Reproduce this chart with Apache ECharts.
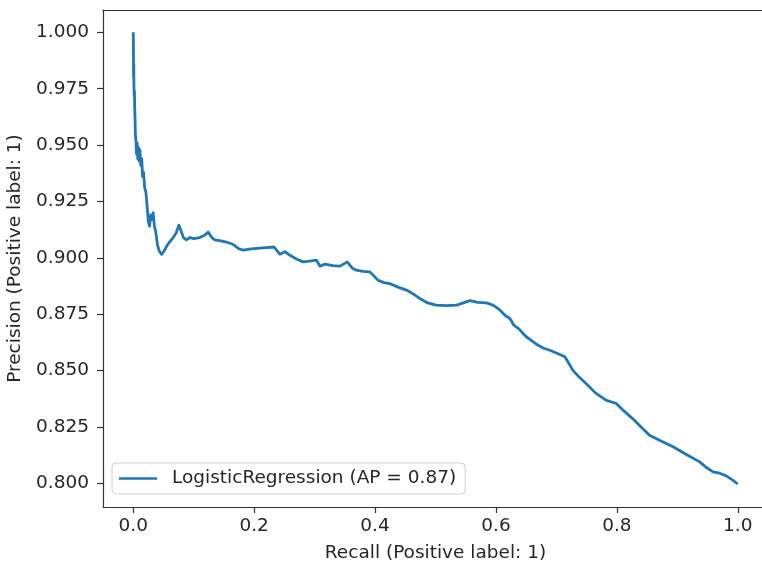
<!DOCTYPE html>
<html>
<head>
<meta charset="utf-8">
<script src="https://cdn.jsdelivr.net/npm/echarts@6/dist/echarts.min.js"></script>
<style>
html,body{margin:0;padding:0;background:#fff;overflow:hidden;}
#chart{width:762px;height:565px;}
</style>
</head>
<body>
<div id="chart"></div>
<script>
const seriesName = 'LogisticRegression (AP = 0.87)';
const xTicks = [0.0, 0.2, 0.4, 0.6, 0.8, 1.0];
const yTicks = [0.800, 0.825, 0.850, 0.875, 0.900, 0.925, 0.950, 0.975, 1.000];
const recall = [
  0, 0.0003, 0.0006, 0.0009, 0.0012, 0.0016, 0.002, 0.0025, 0.003, 0.0035,
  0.0045, 0.0055, 0.0065, 0.0075, 0.0085, 0.0095, 0.011, 0.0125, 0.014, 0.0155,
  0.017, 0.019, 0.021, 0.022, 0.0235, 0.025, 0.027, 0.029, 0.031, 0.033,
  0.035, 0.037, 0.040, 0.043, 0.047, 0.051, 0.055, 0.060, 0.066, 0.071,
  0.0755, 0.079, 0.083, 0.088, 0.094, 0.100, 0.110, 0.118, 0.124, 0.130,
  0.135, 0.145, 0.154, 0.165, 0.175, 0.182, 0.195, 0.209, 0.220, 0.233,
  0.2425, 0.251, 0.260, 0.270, 0.281, 0.292, 0.303, 0.309, 0.317, 0.330,
  0.342, 0.354, 0.362, 0.369, 0.380, 0.391, 0.398, 0.405, 0.415, 0.424,
  0.438, 0.452, 0.463, 0.474, 0.487, 0.501, 0.518, 0.535, 0.546, 0.557,
  0.570, 0.584, 0.595, 0.606, 0.615, 0.623, 0.630, 0.638, 0.650, 0.667,
  0.678, 0.689, 0.700, 0.714, 0.721, 0.727, 0.738, 0.749, 0.765, 0.782,
  0.799, 0.812, 0.826, 0.840, 0.854, 0.873, 0.893, 0.915, 0.937, 0.948,
  0.959, 0.970, 0.981, 0.991, 1.0
];
const precision = [
  1.000, 0.995, 0.980, 0.986, 0.976, 0.972, 0.974, 0.966, 0.962, 0.955,
  0.952, 0.946, 0.951, 0.944, 0.949, 0.943, 0.948, 0.941, 0.944, 0.936,
  0.938, 0.931, 0.929, 0.926, 0.921, 0.916, 0.914, 0.919, 0.917, 0.920,
  0.914, 0.912, 0.906, 0.903, 0.9015, 0.903, 0.905, 0.907, 0.909, 0.911,
  0.9145, 0.912, 0.909, 0.908, 0.909, 0.9085, 0.909, 0.910, 0.9114, 0.909,
  0.908, 0.9075, 0.907, 0.906, 0.904, 0.9034, 0.9040, 0.9043, 0.9045, 0.9048,
  0.9016, 0.9027, 0.901, 0.8995, 0.8982, 0.8985, 0.8990, 0.8963, 0.8972, 0.8965,
  0.8963, 0.8982, 0.8955, 0.8945, 0.894, 0.8938, 0.892, 0.8900, 0.889, 0.8886,
  0.887, 0.8857, 0.884, 0.882, 0.880, 0.8790, 0.8788, 0.8790, 0.880, 0.8810,
  0.8802, 0.8800, 0.8790, 0.8770, 0.8745, 0.8731, 0.870, 0.8685, 0.8650, 0.8617,
  0.8600, 0.8590, 0.8578, 0.8561, 0.853, 0.8502, 0.847, 0.8443, 0.840, 0.8369,
  0.8354, 0.832, 0.8287, 0.825, 0.8213, 0.8188, 0.8162, 0.8128, 0.8095, 0.807,
  0.8051, 0.8045, 0.8033, 0.8015, 0.7997
];

const data = recall.map((r, i) => [r, precision[i]]);
const font = 'DejaVu Sans';
const fs = 18.5;
const textColor = '#262626';
const axisColor = '#333';
const chart = echarts.init(document.getElementById('chart'), null, {renderer: 'canvas'});
chart.setOption({
  animation: false,
  backgroundColor: '#ffffff',
  grid: {
    left: 103, top: 10, width: 665, height: 497,
    containLabel: false, outerBoundsMode: 'none', show: false
  },
  legend: {
    left: 112, top: 463,
    data: [seriesName],
    icon: 'rect', itemWidth: 38, itemHeight: 2.5,
    padding: [6, 9, 6, 7],
    backgroundColor: '#fff',
    borderColor: '#d0d0d0', borderWidth: 1, borderRadius: 4,
    textStyle: {fontFamily: font, fontSize: fs, color: textColor, padding: [0, 0, 0, 10]}
  },
  xAxis: [{
    type: 'value', min: -0.05, max: 1.05, position: 'bottom',
    name: 'Recall (Positive label: 1)', nameLocation: 'middle', nameGap: 37,
    nameTextStyle: {fontFamily: font, fontSize: fs, color: textColor},
    axisLine: {show: true, onZero: false, lineStyle: {color: axisColor, width: 1.2}},
    axisTick: {show: true, inside: false, length: 6, customValues: xTicks, lineStyle: {color: axisColor, width: 1.2}},
    axisLabel: {customValues: xTicks, margin: 10, fontFamily: font, fontSize: fs, color: textColor,
      formatter: v => v.toFixed(1)},
    splitLine: {show: false}
  }, {
    type: 'value', min: -0.05, max: 1.05, position: 'top',
    axisLine: {show: true, onZero: false, lineStyle: {color: axisColor, width: 1.2}},
    axisTick: {show: false}, axisLabel: {show: false}, splitLine: {show: false}
  }],
  yAxis: {
    type: 'value', min: 0.7895, max: 1.0099,
    name: 'Precision (Positive label: 1)', nameLocation: 'middle', nameGap: 76,
    nameTextStyle: {fontFamily: font, fontSize: fs, color: textColor},
    axisLine: {show: true, onZero: false, lineStyle: {color: axisColor, width: 1.2}},
    axisTick: {show: true, inside: false, length: 6, customValues: yTicks, lineStyle: {color: axisColor, width: 1.2}},
    axisLabel: {customValues: yTicks, margin: 14, fontFamily: font, fontSize: fs, color: textColor,
      formatter: v => v.toFixed(3)},
    splitLine: {show: false}
  },
  series: [{
    name: seriesName,
    type: 'line',
    xAxisIndex: 0,
    data: data,
    symbol: 'none',
    showSymbol: false,
    color: '#1f77b4',
    lineStyle: {color: '#1f77b4', width: 2.8, join: 'round'}
  }]
});
</script>
</body>
</html>
